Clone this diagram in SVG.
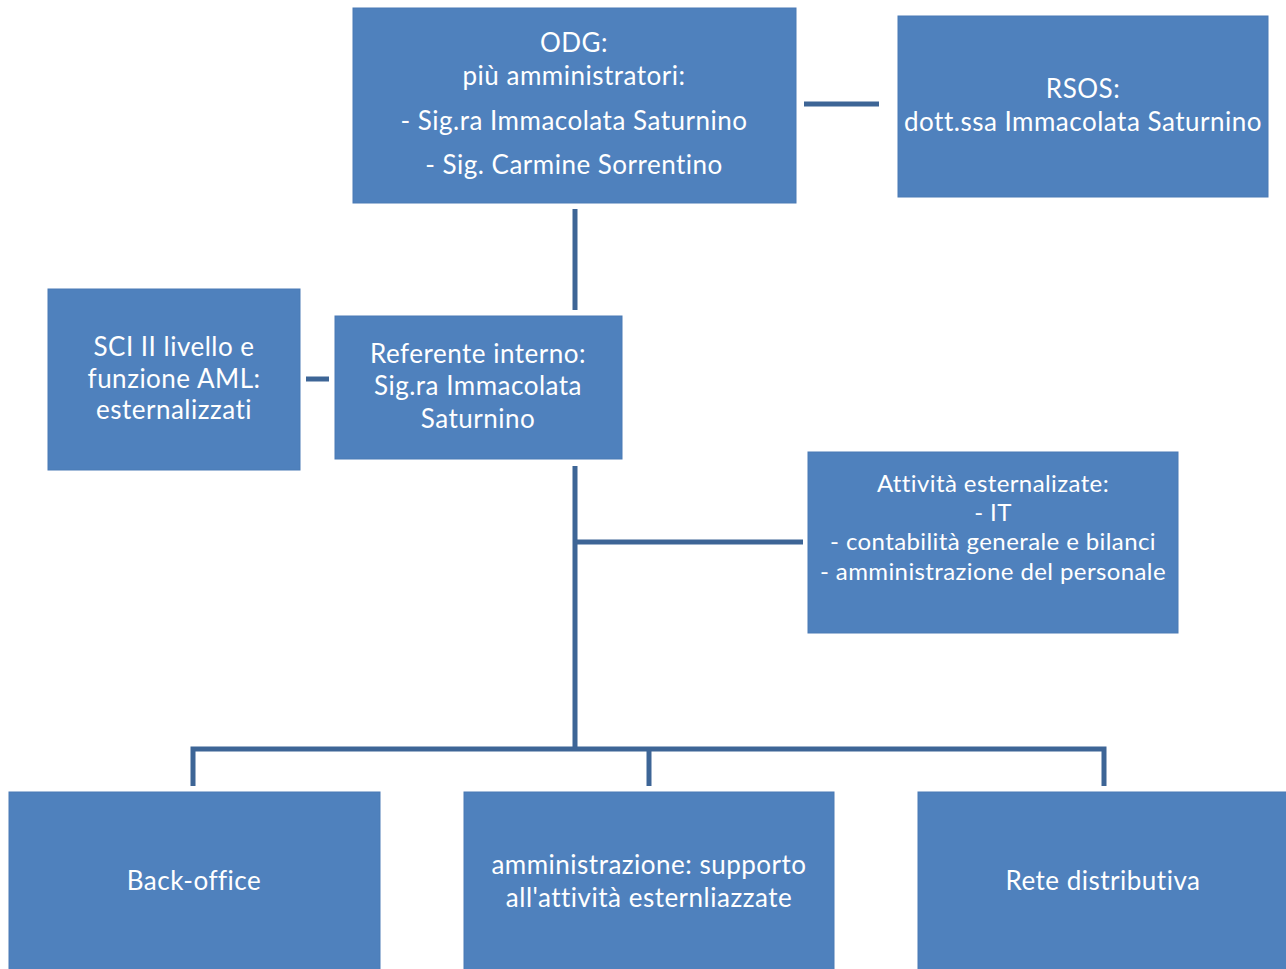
<svg xmlns="http://www.w3.org/2000/svg" width="1286" height="969" viewBox="0 0 1286 969">
<style>
.box{fill:#4f81bd;stroke:#4a7ab5;stroke-width:1}
.t{font-family:Lato,"Open Sans","Liberation Sans",sans-serif;fill:#ffffff;text-anchor:middle;font-size:26px;letter-spacing:0.5px}
.s{font-size:24px;letter-spacing:0.4px}
.c{stroke:#3d6596;stroke-width:5;fill:none}
</style>
<rect width="1286" height="969" fill="#ffffff"/>
<g id="connectors">
<line class="c" x1="804" y1="104" x2="879" y2="104"/>
<line class="c" x1="575" y1="209" x2="575" y2="310"/>
<line class="c" x1="306" y1="379" x2="329" y2="379"/>
<line class="c" x1="575" y1="466" x2="575" y2="749"/>
<line class="c" x1="575" y1="542" x2="803" y2="542"/>
<polyline class="c" points="193,786 193,749 1104,749 1104,786"/>
<line class="c" x1="649" y1="749" x2="649" y2="786"/>
</g>
<g id="odg">
<rect class="box" x="353" y="8" width="443" height="195"/>
<text class="t" x="574" y="52">ODG:</text>
<text class="t" x="574" y="85">più amministratori:</text>
<text class="t" x="574" y="130">- Sig.ra Immacolata Saturnino</text>
<text class="t" x="574" y="174">- Sig. Carmine Sorrentino</text>
</g>
<g id="rsos">
<rect class="box" x="898" y="16" width="370" height="181"/>
<text class="t" x="1083" y="98">RSOS:</text>
<text class="t" x="1083" y="131">dott.ssa Immacolata Saturnino</text>
</g>
<g id="sci">
<rect class="box" x="48" y="289" width="252" height="181"/>
<text class="t" x="174" y="356">SCI II livello e</text>
<text class="t" x="174" y="388">funzione AML:</text>
<text class="t" x="174" y="419">esternalizzati</text>
</g>
<g id="referente">
<rect class="box" x="335" y="316" width="287" height="143"/>
<text class="t" x="478" y="363">Referente interno:</text>
<text class="t" x="478" y="395">Sig.ra Immacolata</text>
<text class="t" x="478" y="428">Saturnino</text>
</g>
<g id="attivita">
<rect class="box" x="808" y="452" width="370" height="181"/>
<text class="t s" x="993" y="492">Attività esternalizate:</text>
<text class="t s" x="993" y="521">- IT</text>
<text class="t s" x="993" y="550">- contabilità generale e bilanci</text>
<text class="t s" x="993" y="580">- amministrazione del personale</text>
</g>
<g id="backoffice">
<rect class="box" x="9" y="792" width="371" height="180"/>
<text class="t" x="194" y="890">Back-office</text>
</g>
<g id="amministrazione">
<rect class="box" x="464" y="792" width="370" height="180"/>
<text class="t" x="649" y="874">amministrazione: supporto</text>
<text class="t" x="649" y="907">all'attività esternliazzate</text>
</g>
<g id="rete">
<rect class="box" x="918" y="792" width="370" height="180"/>
<text class="t" x="1103" y="890">Rete distributiva</text>
</g>
</svg>
